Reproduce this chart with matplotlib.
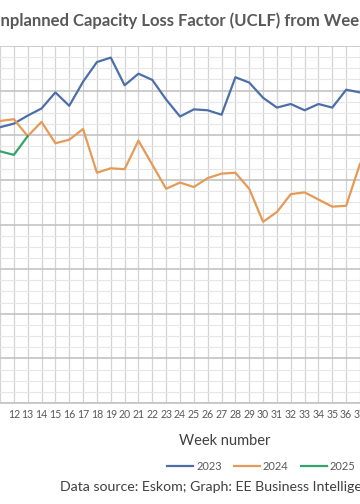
import matplotlib
matplotlib.use('Agg')
import matplotlib.pyplot as plt
from matplotlib.ticker import MultipleLocator

plt.rcParams['font.family'] = ['Lato', 'DejaVu Sans']

# weekly UCLF (%), weeks 11-37 (the chart is cropped to this window)
weeks = list(range(11, 38))
uclf_2023 = [30.9, 31.3, 32.2, 33.0, 34.8, 33.3, 36.0, 38.2, 38.7, 35.6, 36.9, 36.2, 34.0, 32.1,
             32.9, 32.8, 32.3, 36.5, 35.9, 34.2, 33.1, 33.5, 32.8, 33.5, 33.1, 35.1, 34.8]
uclf_2024 = [31.6, 31.8, 29.9, 31.5, 29.1, 29.5, 30.7, 25.8, 26.3, 26.2, 29.4, 26.7, 24.0, 24.7,
             24.2, 25.2, 25.7, 25.8, 24.0, 20.3, 21.4, 23.4, 23.6, 22.8, 22.0, 22.1, 26.8]
weeks_2025 = [11, 12, 13]
uclf_2025 = [28.2, 27.8, 29.9]
week_labels = weeks[1:]   # week 11 label lies outside the crop

fig = plt.figure(figsize=(3.6, 5.04), dpi=100)
ax = fig.add_axes([0, 1 - 403/504, 1, (403 - 46) / 504])

ax.plot(weeks, uclf_2023, color='#4d6fa8', lw=1.6, label='2023')
ax.plot(weeks, uclf_2024, color='#e59a57', lw=1.6, label='2024')
ax.plot(weeks_2025, uclf_2025, color='#35a46c', lw=1.6, label='2025')

ax.set_xlim(12 - 6.7/14.2, 12 + 353.3/14.2)
ax.set_ylim(0, 40)
ax.set_xticks(weeks, minor=True)
ax.set_xticks(week_labels)
ax.set_xticklabels([str(w) for w in week_labels])
ax.yaxis.set_major_locator(MultipleLocator(5))
ax.yaxis.set_minor_locator(MultipleLocator(1.25))
ax.set_yticklabels([])
ax.tick_params(axis='both', which='both', length=0)
ax.tick_params(axis='x', labelsize=7.6, labelcolor='#595959', pad=4)

ax.grid(axis='x', which='both', color='#d3d3d3', lw=0.9)
ax.grid(axis='y', which='minor', color='#e6e6e6', lw=0.8)
ax.grid(axis='y', which='major', color='#c4c4c4', lw=1.2)
ax.set_axisbelow(True)
for side in ['left', 'right', 'top']:
    ax.spines[side].set_visible(False)
ax.spines['bottom'].set_color('#c4c4c4')
ax.spines['bottom'].set_linewidth(1.2)

# title, cropped on the left like the original
fig.canvas.draw()
r = fig.canvas.get_renderer()
probe = fig.text(0, 0, 'U', fontsize=12.0, fontweight='bold')
u_w = probe.get_window_extent(r).width
probe.remove()
fig.text(-u_w / 360, 1 - 21/504, 'Unplanned Capacity Loss Factor (UCLF) from Week 1',
         fontsize=12.0, fontweight='bold', color='#595959', ha='left', va='center')

fig.text(225/360, 1 - 441/504, 'Week number', fontsize=10.5, color='#404040',
         ha='center', va='center')
fig.legend(loc='center', bbox_to_anchor=(261.5/360, 1 - 466/504), ncol=3, frameon=False,
           fontsize=8, labelcolor='#595959', handlelength=2.3, handletextpad=0.3,
           columnspacing=1.1)
fig.text(60/360, 1 - 487/504, 'Data source: Eskom; Graph: EE Business Intelligence',
         fontsize=10.2, color='#404040', ha='left', va='center')

fig.savefig('out.png', dpi=100)
